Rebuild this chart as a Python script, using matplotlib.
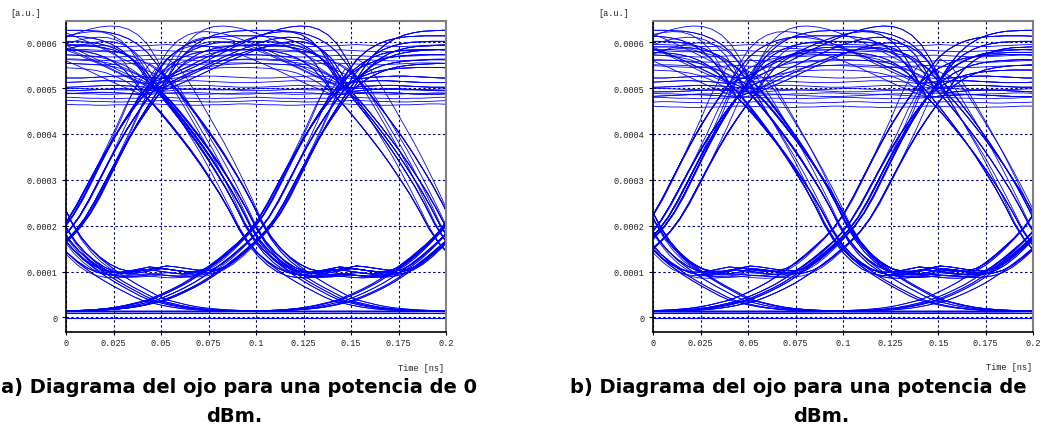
import matplotlib.pyplot as plt

# sample times inside one bit slot (ns), slot starts at a bit centre
slot_t = [0.000, 0.005, 0.010, 0.015, 0.020, 0.025, 0.030, 0.035, 0.040, 0.045, 0.050,
          0.055, 0.060, 0.065, 0.070, 0.075, 0.080, 0.085, 0.090, 0.095, 0.100]
# bit centres where the three visible slots start
slot_start = [-0.053, 0.047, 0.147]

# slot shapes (units of 1e-4 a.u.)
shapes = {
    "FALL":    [5.0, 4.78, 4.53, 4.27, 4.0, 3.72, 3.42, 3.1, 2.77, 2.4, 2.0, 1.68, 1.44, 1.24, 1.08, 0.93, 0.8, 0.68, 0.57, 0.46, 0.37],
    "FALL_P":  [5.0, 4.78, 4.53, 4.27, 4.0, 3.72, 3.42, 3.1, 2.77, 2.4, 2.0, 1.68, 1.44, 1.26, 1.12, 1.02, 0.97, 0.97, 1.0, 1.04, 1.08],
    "FALL_Q":  [5.0, 4.8, 4.56, 4.3, 4.03, 3.75, 3.45, 3.12, 2.78, 2.4, 1.98, 1.64, 1.38, 1.18, 1.03, 0.94, 0.9, 0.89, 0.9, 0.92, 0.94],
    "FALL_PK": [5.42, 5.3, 5.05, 4.72, 4.38, 4.03, 3.68, 3.3, 2.9, 2.48, 2.04, 1.7, 1.45, 1.24, 1.08, 0.93, 0.8, 0.68, 0.57, 0.46, 0.37],
    "RISE":    [0.37, 0.45, 0.54, 0.64, 0.75, 0.88, 1.02, 1.18, 1.34, 1.52, 1.7, 1.92, 2.2, 2.56, 2.96, 3.36, 3.74, 4.1, 4.42, 4.72, 5.0],
    "RISE_P":  [1.08, 1.06, 1.03, 1.0, 0.98, 0.99, 1.05, 1.16, 1.32, 1.5, 1.7, 1.92, 2.2, 2.56, 2.96, 3.36, 3.74, 4.1, 4.42, 4.72, 5.0],
    "RISE_Q":  [0.94, 0.92, 0.9, 0.89, 0.9, 0.93, 1.0, 1.12, 1.28, 1.47, 1.68, 1.9, 2.18, 2.52, 2.92, 3.33, 3.72, 4.08, 4.41, 4.72, 5.0],
    "RISE_PK": [0.37, 0.45, 0.54, 0.64, 0.75, 0.88, 1.02, 1.18, 1.34, 1.52, 1.7, 1.92, 2.2, 2.56, 2.96, 3.36, 3.8, 4.24, 4.72, 5.12, 5.42],
    "TAIL":    [0.37, 0.32, 0.27, 0.23, 0.2, 0.18, 0.165, 0.155, 0.145, 0.14, 0.135, 0.132, 0.13, 0.13, 0.13, 0.13, 0.13, 0.13, 0.13, 0.13, 0.13],
    "LEAD":    [0.13, 0.13, 0.13, 0.13, 0.13, 0.13, 0.13, 0.13, 0.13, 0.132, 0.135, 0.14, 0.145, 0.155, 0.165, 0.18, 0.2, 0.23, 0.27, 0.32, 0.37],
    "FLOOR":   [0.13, 0.13, 0.13, 0.13, 0.13, 0.13, 0.13, 0.13, 0.13, 0.13, 0.13, 0.13, 0.13, 0.13, 0.13, 0.13, 0.13, 0.13, 0.13, 0.13, 0.13],
    "FLOOR_B": [0.1, 0.1, 0.1, 0.1, 0.1, 0.1, 0.1, 0.1, 0.1, 0.1, 0.1, 0.1, 0.1, 0.1, 0.1, 0.1, 0.1, 0.1, 0.1, 0.1, 0.1],
    "ZERO":    [-0.02, -0.02, -0.02, -0.02, -0.02, -0.02, -0.02, -0.02, -0.02, -0.02, -0.02, -0.02, -0.02, -0.02, -0.02, -0.02, -0.02, -0.02, -0.02, -0.02, -0.02],
    "HH_FLAT": [5.0, 5.02, 5.04, 5.05, 5.06, 5.06, 5.05, 5.04, 5.03, 5.02, 5.02, 5.02, 5.03, 5.04, 5.05, 5.06, 5.06, 5.05, 5.04, 5.02, 5.0],
    "HH_ARC":  [5.0, 5.3, 5.55, 5.72, 5.84, 5.92, 5.97, 6.0, 6.01, 6.02, 6.02, 6.02, 6.01, 6.0, 5.97, 5.92, 5.84, 5.72, 5.55, 5.3, 5.0],
    "HH_MID":  [5.0, 5.18, 5.32, 5.42, 5.5, 5.55, 5.58, 5.6, 5.61, 5.62, 5.62, 5.62, 5.61, 5.6, 5.58, 5.55, 5.5, 5.42, 5.32, 5.18, 5.0],
    "HH_LATE": [5.0, 5.08, 5.17, 5.26, 5.36, 5.46, 5.56, 5.66, 5.75, 5.84, 5.92, 5.99, 6.05, 6.09, 6.11, 6.1, 6.04, 5.92, 5.72, 5.4, 5.0],
    "HH_EARLY": [5.0, 5.4, 5.72, 5.92, 6.04, 6.1, 6.11, 6.09, 6.05, 5.99, 5.92, 5.84, 5.75, 5.66, 5.56, 5.46, 5.36, 5.26, 5.17, 5.08, 5.0],
    "TOP57":   [5.72, 5.71, 5.7, 5.69, 5.68, 5.68, 5.69, 5.7, 5.71, 5.72, 5.72, 5.72, 5.71, 5.7, 5.69, 5.68, 5.68, 5.69, 5.7, 5.71, 5.72],
    "LOW48":   [4.8, 4.8, 4.79, 4.78, 4.78, 4.77, 4.77, 4.78, 4.78, 4.79, 4.8, 4.8, 4.79, 4.78, 4.78, 4.77, 4.77, 4.78, 4.78, 4.79, 4.8],
}

# bit patterns seen in the eye: shape used in each of the three slots
recipes = [
    ("FALL", "TAIL", "FLOOR"), ("FALL", "TAIL", "LEAD"), ("FLOOR", "LEAD", "RISE"),
    ("TAIL", "LEAD", "RISE_PK"), ("FALL_P", "RISE_P", "HH_ARC"), ("FALL_P", "RISE_P", "FALL"),
    ("RISE_P", "FALL_P", "RISE_P"), ("RISE", "FALL_P", "RISE_P"), ("HH_ARC", "FALL", "TAIL"),
    ("HH_LATE", "FALL_P", "RISE_P"), ("RISE", "HH_ARC", "FALL"), ("RISE_P", "HH_MID", "FALL_P"),
    ("LEAD", "RISE_PK", "FALL_PK"), ("RISE_PK", "FALL_PK", "TAIL"), ("FLOOR", "FLOOR", "LEAD"),
    ("TAIL", "FLOOR", "FLOOR"), ("HH_EARLY", "HH_LATE", "FALL"), ("RISE", "HH_EARLY", "HH_MID"),
    ("HH_MID", "HH_ARC", "HH_FLAT"), ("HH_FLAT", "HH_FLAT", "HH_FLAT"), ("TOP57", "TOP57", "TOP57"),
    ("HH_ARC", "HH_LATE", "HH_ARC"), ("FALL_P", "RISE_P", "HH_MID"), ("LEAD", "RISE", "HH_ARC"),
    ("LEAD", "RISE", "HH_MID"), ("LOW48", "LOW48", "LOW48"), ("HH_FLAT", "FALL_P", "RISE_P"),
    ("FALL_Q", "RISE_Q", "HH_FLAT"), ("RISE", "FALL_Q", "RISE_Q"), ("RISE_Q", "FALL_Q", "RISE_Q"),
]
single = [("ZERO", "ZERO", "ZERO"), ("FLOOR_B", "FLOOR_B", "FLOOR_B")]

# timing jitter (ns) and amplitude factor of the repeated sweeps per panel
shift_a = [-0.006, -0.003, 0.0, 0.003, 0.006]
gain_a = [0.97, 1.02, 1.0, 0.985, 1.04]
shift_b = [-0.007, -0.003, 0.001, 0.004, 0.007]
gain_b = [1.02, 0.96, 1.0, 1.04, 0.98]

x_ticks = [0, 0.025, 0.05, 0.075, 0.1, 0.125, 0.15, 0.175, 0.2]
x_labels = ["0", "0.025", "0.05", "0.075", "0.1", "0.125", "0.15", "0.175", "0.2"]
y_ticks = [0, 0.0001, 0.0002, 0.0003, 0.0004, 0.0005, 0.0006]
y_labels = ["0", "0.0001", "0.0002", "0.0003", "0.0004", "0.0005", "0.0006"]

mono = "Liberation Mono"


def sweep(recipe, dx, k):
    xs, ys = [], []
    for t0, name in zip(slot_start, recipe):
        xs += [t0 + t + dx for t in slot_t]
        ys += [v * k * 1e-4 for v in shapes[name]]
    return xs, ys


def eye(ax, shifts, gains):
    for r in recipes:
        for dx, k in zip(shifts, gains):
            xs, ys = sweep(r, dx, k)
            ax.plot(xs, ys, color="#0000ff", lw=0.6)
    for r in single:
        xs, ys = sweep(r, 0.0, 1.0)
        ax.plot(xs, ys, color="#0000ff", lw=0.8)
    ax.set_xlim(0, 0.2)
    ax.set_ylim(-0.000031, 0.000647)
    ax.set_xticks(x_ticks, x_labels)
    ax.set_yticks(y_ticks, y_labels)
    for lab in ax.get_xticklabels() + ax.get_yticklabels():
        lab.set_fontfamily(mono)
        lab.set_fontsize(6.2)
        lab.set_color("#222222")
    ax.tick_params(axis="y", length=3.2, width=0.8, pad=3)
    ax.tick_params(axis="x", length=2.5, width=0.8, pad=2)
    ax.grid(True, color="#000080", lw=0.8, linestyle=(0, (2.2, 2.2)))
    ax.set_axisbelow(True)
    for s in ["left", "bottom"]:
        ax.spines[s].set_color("black")
        ax.spines[s].set_linewidth(1.2)
    for s in ["top", "right"]:
        ax.spines[s].set_color("#808080")
        ax.spines[s].set_linewidth(1.5)


W, H = 1041, 427
fig = plt.figure(figsize=(W / 100, H / 100), dpi=100)
ax_a = fig.add_axes([66 / W, 1 - 332.7 / H, 380 / W, 311 / H])
ax_b = fig.add_axes([653.3 / W, 1 - 332.7 / H, 380 / W, 311 / H])
eye(ax_a, shift_a, gain_a)
eye(ax_b, shift_b, gain_b)

fig.text(10 / W, 1 - 13.3 / H, "[a.u.]", family=mono, fontsize=6.2, va="center", ha="left", color="#222222")
fig.text(598 / W, 1 - 13.3 / H, "[a.u.]", family=mono, fontsize=6.2, va="center", ha="left", color="#222222")
fig.text(444 / W, 1 - 369 / H, "Time [ns]", family=mono, fontsize=6.2, va="center", ha="right", color="#222222")
fig.text(1032 / W, 1 - 368 / H, "Time [ns]", family=mono, fontsize=6.2, va="center", ha="right", color="#222222")

cap = dict(family="DejaVu Sans", fontsize=14, fontweight="bold", va="baseline", color="black")
fig.text(477 / W, 1 - 393 / H, "a) Diagrama del ojo para una potencia de 0", ha="right", **cap)
fig.text(234 / W, 1 - 422.5 / H, "dBm.", ha="center", **cap)
fig.text(570 / W, 1 - 393 / H, "b) Diagrama del ojo para una potencia de", ha="left", **cap)
fig.text(821 / W, 1 - 422.5 / H, "dBm.", ha="center", **cap)

fig.savefig("out.png", dpi=100)
